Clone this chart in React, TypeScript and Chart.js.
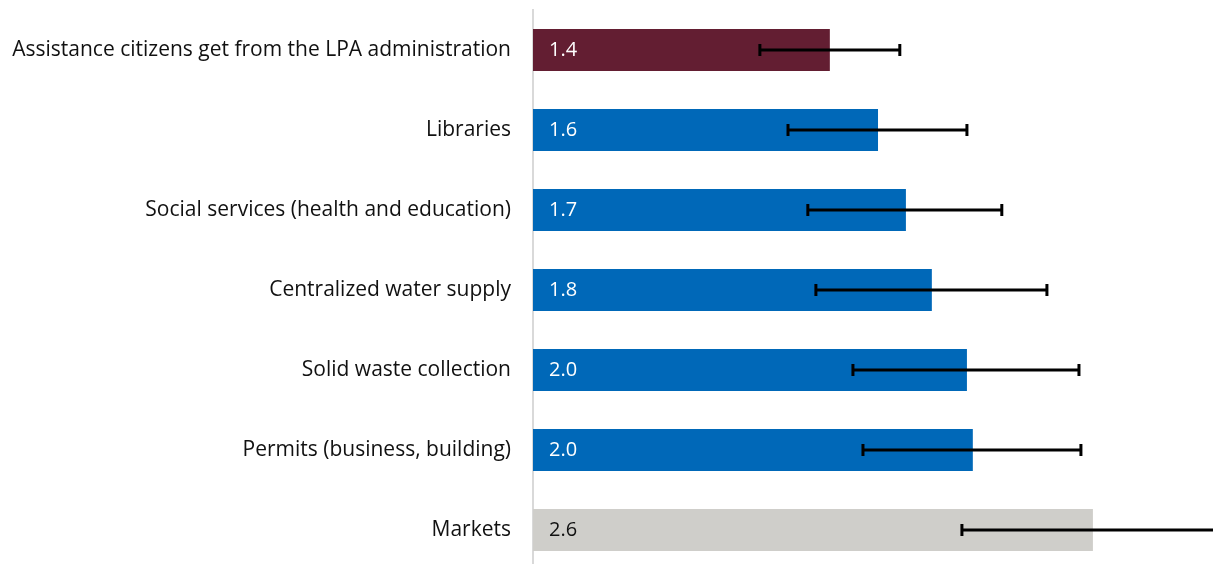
import React, { useEffect, useRef } from "react";
import { Chart, registerables } from "chart.js";

Chart.register(...registerables);

const categories = [
  "Assistance citizens get from the LPA administration",
  "Libraries",
  "Social services (health and education)",
  "Centralized water supply",
  "Solid waste collection",
  "Permits (business, building)",
  "Markets",
];
const values = [1.362, 1.583, 1.711, 1.83, 1.991, 2.018, 2.569];
const errLow = [1.041, 1.17, 1.261, 1.298, 1.468, 1.514, 1.968];
const errHigh = [1.683, 1.991, 2.151, 2.358, 2.505, 2.514, 3.3];
const barColors = ["#631E32", "#0068B8", "#0068B8", "#0068B8", "#0068B8", "#0068B8", "#CFCECA"];
const labelColors = ["#FFFFFF", "#FFFFFF", "#FFFFFF", "#FFFFFF", "#FFFFFF", "#FFFFFF", "#111111"];

const FONT = "'Open Sans', Lato, sans-serif";

const overlayPlugin = {
  id: "overlay",
  afterDatasetsDraw(chart: any) {
    const ctx = chart.ctx;
    const xs = chart.scales.x;
    const ys = chart.scales.y;
    const area = chart.chartArea;
    ctx.save();
    // value labels
    ctx.font = `20px ${FONT}`;
    ctx.textBaseline = "middle";
    ctx.textAlign = "left";
    values.forEach((v, i) => {
      const y = ys.getPixelForValue(i);
      ctx.fillStyle = labelColors[i];
      ctx.fillText(v.toFixed(1), xs.getPixelForValue(0) + 16, y);
    });
    // error bars
    ctx.beginPath();
    ctx.rect(area.left, 0, chart.width - area.left, chart.height);
    ctx.clip();
    ctx.strokeStyle = "#000000";
    ctx.lineWidth = 3;
    errLow.forEach((lo, i) => {
      const y = ys.getPixelForValue(i);
      const x1 = xs.getPixelForValue(lo);
      const x2 = xs.getPixelForValue(errHigh[i]);
      ctx.beginPath();
      ctx.moveTo(x1, y);
      ctx.lineTo(x2, y);
      ctx.moveTo(x1, y - 6);
      ctx.lineTo(x1, y + 6);
      ctx.moveTo(x2, y - 6);
      ctx.lineTo(x2, y + 6);
      ctx.stroke();
    });
    ctx.restore();
  },
};

export default function App() {
  const ref = useRef<HTMLCanvasElement>(null);
  useEffect(() => {
    if (!ref.current) return;
    const chart = new Chart(ref.current, {
      type: "bar",
      data: {
        labels: categories,
        datasets: [
          {
            data: values,
            backgroundColor: barColors,
            borderWidth: 0,
            barPercentage: 0.525,
            categoryPercentage: 1,
          },
        ],
      },
      options: {
        indexAxis: "y",
        animation: false,
        responsive: false,
        maintainAspectRatio: false,
        layout: { padding: { top: 10, bottom: 0, left: 0, right: 0 } },
        plugins: { legend: { display: false }, tooltip: { enabled: false } },
        scales: {
          x: {
            display: false,
            min: 0,
            max: 3.12,
          },
          y: {
            grid: { display: false, drawTicks: false },
            border: { display: true, color: "#D9D9D9", width: 2 },
            ticks: {
              color: "#111111",
              padding: 22,
              font: { family: FONT, size: 21 },
            },
            afterFit(scale: any) {
              scale.width = 533;
              scale.paddingTop = 0;
              scale.paddingBottom = 0;
            },
          },
        },
      },
      plugins: [overlayPlugin],
    });
    return () => chart.destroy();
  }, []);
  return (
    <div style={{ position: "absolute", left: 0, top: 0, width: 1213, height: 570 }}>
      <canvas ref={ref} width={1213} height={570} />
    </div>
  );
}
